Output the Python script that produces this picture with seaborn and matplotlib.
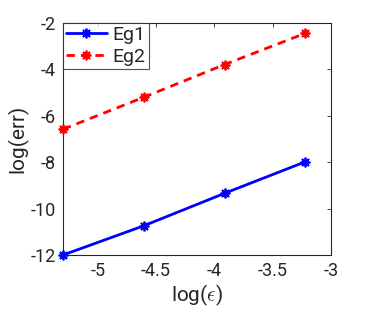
import numpy as np
import pandas as pd
import matplotlib
matplotlib.use("Agg")
import matplotlib.pyplot as plt
import seaborn as sns

log_eps = [-5.298, -4.605, -3.912, -3.219]
eg1 = [-12.0, -10.74, -9.34, -7.98]
eg2 = [-6.58, -5.20, -3.79, -2.44]
series = ["Eg1", "Eg2"]

df = pd.DataFrame({
    "x": log_eps * 2,
    "y": eg1 + eg2,
    "series": [series[0]] * 4 + [series[1]] * 4,
})

sns.set_style("white")
plt.rcParams["font.family"] = ["Roboto", "DejaVu Sans"]
plt.rcParams["mathtext.fontset"] = "cm"

fig = plt.figure(figsize=(3.67, 3.12), dpi=100)
ax = fig.add_axes([63 / 367, 1 - 255 / 312, (331 - 63) / 367, (255 - 23) / 312])

styles = {"Eg1": ("#0000FF", "-"), "Eg2": ("#FF0000", (0, (3, 2.2)))}
for name in series:
    col, ls = styles[name]
    sns.lineplot(
        data=df[df["series"] == name], x="x", y="y", label=name,
        color=col, linestyle=ls, marker=(8, 2, 0), markersize=7,
        markeredgecolor=col, markeredgewidth=1.3, linewidth=2, ax=ax,
        clip_on=False, zorder=3,
    )

ax.set_xlim(-5.298, -3)
ax.set_ylim(-12, -2)
ax.set_xticks([-5, -4.5, -4, -3.5, -3])
ax.set_xticklabels(["-5", "-4.5", "-4", "-3.5", "-3"])
ax.set_yticks([-12, -10, -8, -6, -4, -2])
ax.set_yticklabels(["-12", "-10", "-8", "-6", "-4", "-2"])
ax.tick_params(direction="in", length=3, width=0.6, top=True, right=True,
               labelsize=13, colors="#262626", labelcolor="#262626", pad=5)
for s in ax.spines.values():
    s.set_color("#262626")
    s.set_linewidth(0.8)
ax.set_xlabel(r"log($\epsilon$)", fontsize=15, color="#262626", labelpad=2)
ax.set_ylabel("log(err)", fontsize=15, color="#262626", labelpad=2)

leg = ax.legend(loc="upper left", fontsize=14, frameon=True, fancybox=False,
                edgecolor="#262626", borderaxespad=0, handlelength=2.1,
                borderpad=0.15, labelspacing=0.2, handletextpad=0.3)
leg.get_frame().set_linewidth(0.8)
leg.set_zorder(5)

fig.savefig("out.png", dpi=100)
